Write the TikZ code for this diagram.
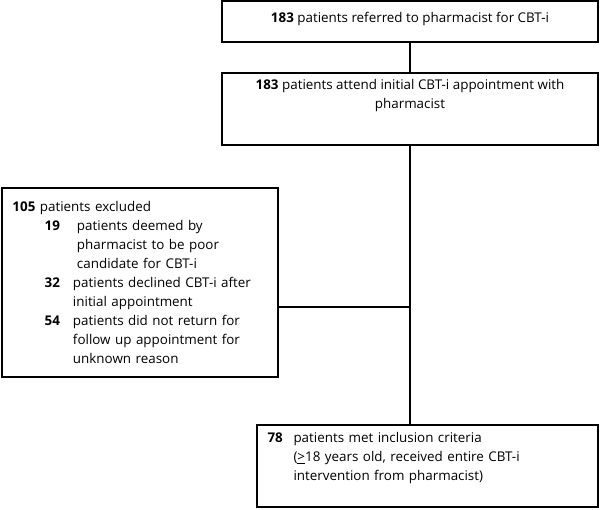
\documentclass[tikz,border=0pt]{standalone}
\usepackage{fontspec}
\setmainfont{Open Sans}
\usetikzlibrary{calc}

\begin{document}
\begin{tikzpicture}[x=1pt, y=-1pt,
  flowbox/.style={draw, line width=1.4pt, rectangle, inner sep=0pt},
  flowtext/.style={font=\fontsize{13.4}{19}\selectfont, inner sep=0pt}]

\useasboundingbox (0,0) rectangle (600,509);

\coordinate (R) at (410,21.5);
\coordinate (A) at (410,109);
\coordinate (E) at (140,282.5);
\coordinate (M) at (427.5,466);

% boxes
\node[flowbox, minimum width=376pt, minimum height=41pt] (referred) at (R) {};
\node[flowtext, anchor=base] (referredtext) at ($(referred.north)+(0,22)$)
  {\textbf{183} patients referred to pharmacist for CBT-i};

\node[flowbox, minimum width=376pt, minimum height=72pt] (attend) at (A) {};
\node[flowtext, align=center, anchor=north] (attendtext) at ($(attend.north)+(0,7)$)
  {\textbf{183} patients attend initial CBT-i appointment with\\pharmacist};

\node[flowbox, flowtext, minimum width=276pt, minimum height=189pt,
  text width=255pt, align=left] (excluded) at (E)
  {\textbf{105} patients excluded\\
   \hspace*{30.5pt}\makebox[17pt][r]{\textbf{19}}\hspace*{17pt}patients deemed by\\
   \hspace*{64.5pt}pharmacist to be poor\\
   \hspace*{64.5pt}candidate for CBT-i\\
   \hspace*{30.5pt}\makebox[17pt][r]{\textbf{32}}\hspace*{13pt}patients declined CBT-i after\\
   \hspace*{60.5pt}initial appointment\\
   \hspace*{30.5pt}\makebox[17pt][r]{\textbf{54}}\hspace*{13pt}patients did not return for\\
   \hspace*{60.5pt}follow up appointment for\\
   \hspace*{60.5pt}unknown reason};

\node[flowbox, minimum width=341pt, minimum height=82pt] (met) at (M) {};
\node[flowtext, text width=315pt, align=left, anchor=north west] (mettext)
  at ($(met.north west)+(11,8)$)
  {\makebox[26pt][l]{\textbf{78}}patients met inclusion criteria\\
   \hspace*{26pt}(\underline{>}18 years old, received entire CBT-i\\
   \hspace*{26pt}intervention from pharmacist)};

% connectors
\coordinate (branch) at (410,307);

\draw[line width=1.4pt] (referred) -- (attend);
\draw[line width=1.4pt] (attend.south) -- (attend.south |- met.north);
\draw[line width=1.4pt] (branch) -- (branch -| excluded.east);

\end{tikzpicture}
\end{document}
